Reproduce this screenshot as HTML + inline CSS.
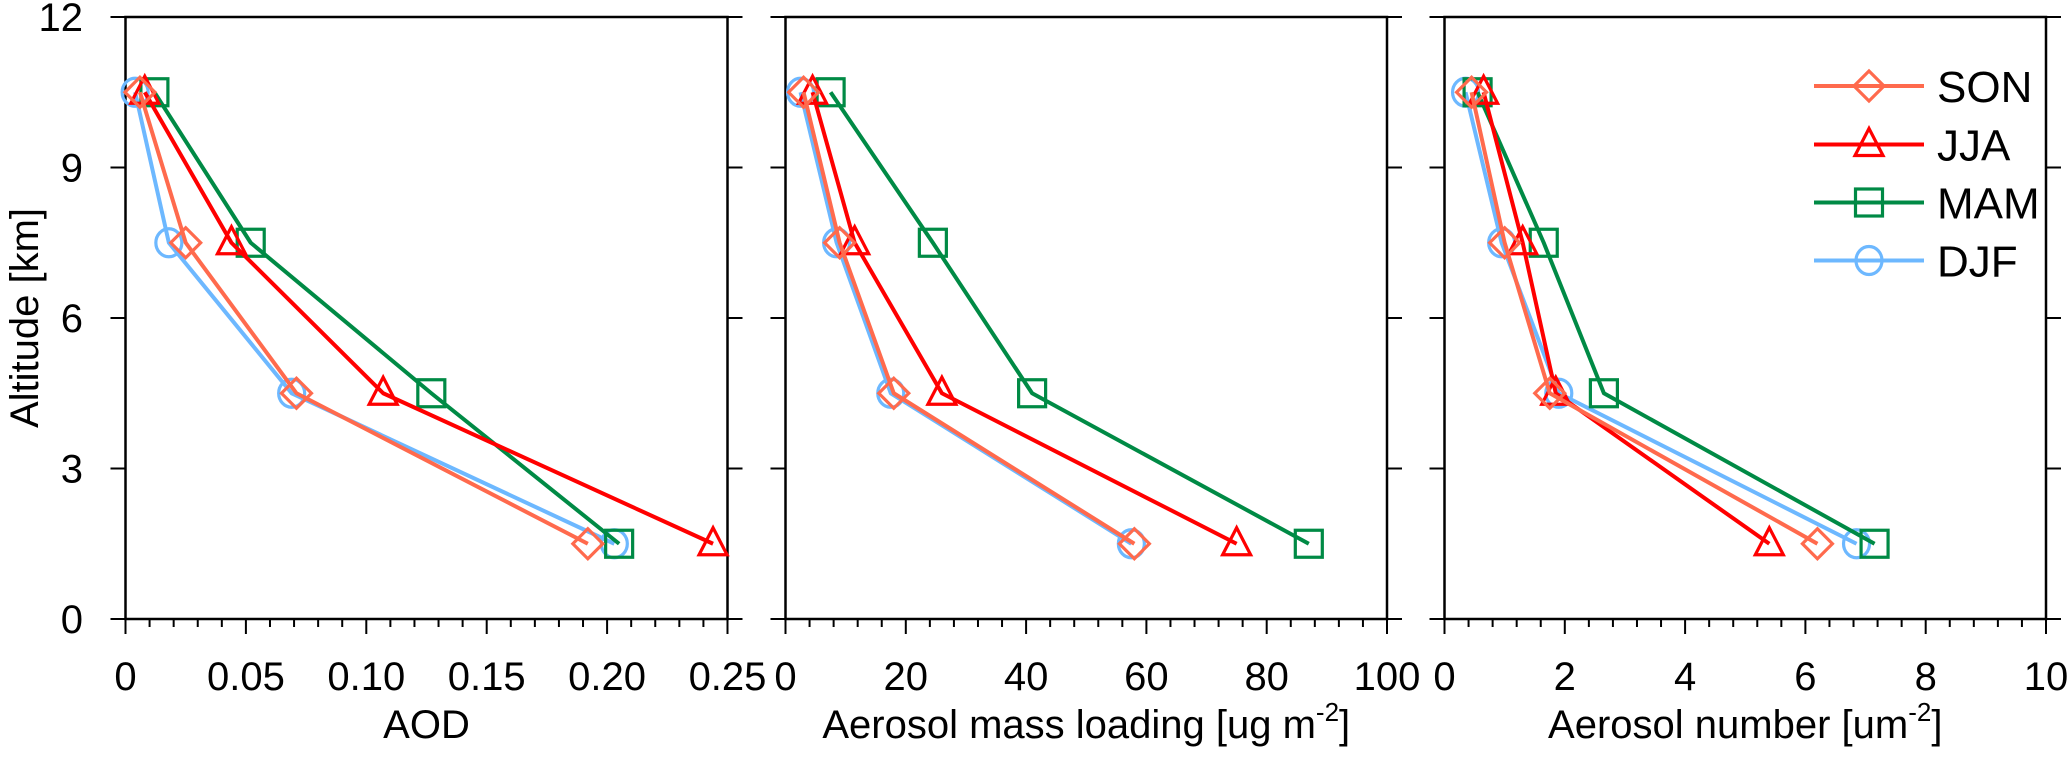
<!DOCTYPE html>
<html><head><meta charset="utf-8"><style>
html,body{margin:0;padding:0;background:#fff}
svg{display:block;font-family:"Liberation Sans",sans-serif}
</style></head><body>
<svg id="chart" width="2067" height="761" viewBox="0 0 2067 761" xmlns="http://www.w3.org/2000/svg"></svg>
<script>
const altitudes = [1.5, 4.5, 7.5, 10.5];
const seasons = ["SON", "JJA", "MAM", "DJF"];
const aodSON = [0.192, 0.071, 0.025, 0.006];
const aodJJA = [0.244, 0.107, 0.044, 0.008];
const aodMAM = [0.205, 0.127, 0.052, 0.012];
const aodDJF = [0.203, 0.069, 0.018, 0.004];
const massSON = [58, 18, 9, 3];
const massJJA = [75, 26, 11.5, 4.5];
const massMAM = [87, 41, 24.5, 7.5];
const massDJF = [57.5, 17.5, 8.5, 2.5];
const numSON = [6.2, 1.75, 1.0, 0.45];
const numJJA = [5.4, 1.85, 1.3, 0.65];
const numMAM = [7.15, 2.65, 1.65, 0.55];
const numDJF = [6.85, 1.9, 0.95, 0.35];
const yTicks = [0, 3, 6, 9, 12];
const aodTicks = ["0", "0.05", "0.10", "0.15", "0.20", "0.25"];
const massTicks = ["0", "20", "40", "60", "80", "100"];
const numTicks = ["0", "2", "4", "6", "8", "10"];

const NS = "http://www.w3.org/2000/svg";
const svg = document.getElementById("chart");
const colors = {SON:"#ff6a4d", JJA:"#ff0000", MAM:"#008a45", DJF:"#6db8ff"};
const TOP = 17, BOT = 619, YMAX = 12;
function yS(v){ return BOT - (v / YMAX) * (BOT - TOP); }
function el(tag, attrs, parent){
  const e = document.createElementNS(NS, tag);
  for (const k in attrs) e.setAttribute(k, attrs[k]);
  (parent || svg).appendChild(e);
  return e;
}
function marker(g, s, cx, cy){
  const c = colors[s]; let m;
  if (s === "SON") m = el("polygon", {points:`${cx},${cy-15} ${cx+15},${cy} ${cx},${cy+15} ${cx-15},${cy}`, fill:"none", stroke:c, "stroke-width":3.2}, g);
  else if (s === "JJA") m = el("polygon", {points:`${cx},${cy-16} ${cx+14},${cy+11} ${cx-14},${cy+11}`, fill:"none", stroke:c, "stroke-width":3.2}, g);
  else if (s === "MAM") m = el("rect", {x:cx-13.5, y:cy-13.5, width:27, height:27, fill:"none", stroke:c, "stroke-width":3.2}, g);
  else m = el("ellipse", {cx:cx, cy:cy, rx:13, ry:14, fill:"none", stroke:c, "stroke-width":3.2}, g);
  
  
}
const panels = [
  {name:"aod", x0:125.5, x1:727.5, max:0.25, ticks:aodTicks, minor:25, title:"AOD", data:{SON:aodSON,JJA:aodJJA,MAM:aodMAM,DJF:aodDJF}},
  {name:"mass", x0:785.5, x1:1387, max:100, ticks:massTicks, minor:25, title:"Aerosol mass loading [ug m", sup:"-2", data:{SON:massSON,JJA:massJJA,MAM:massMAM,DJF:massDJF}},
  {name:"number", x0:1444.5, x1:2046, max:10, ticks:numTicks, minor:25, title:"Aerosol number [um", sup:"-2", data:{SON:numSON,JJA:numJJA,MAM:numMAM,DJF:numDJF}}
];
panels.forEach((p, pi) => {
  const g = el("g", {});
  
  
  const xS = v => p.x0 + (v / p.max) * (p.x1 - p.x0);
  for (let i = 0; i <= p.minor; i++){
    const x = p.x0 + i * (p.x1 - p.x0) / p.minor;
    const major = i % 5 === 0;
    el("line", {x1:x, x2:x, y1:BOT, y2:BOT + (major ? 15 : 8), stroke:"#000", "stroke-width":2}, g);
  }
  p.ticks.forEach((t, i) => {
    const x = p.x0 + i * (p.x1 - p.x0) / (p.ticks.length - 1);
    const tx = el("text", {x:x, y:690, "font-size":40, "text-anchor":"middle"}, g);
    tx.textContent = t;
    
    
  });
  yTicks.forEach(v => {
    const y = yS(v);
    el("line", {x1:p.x0 - 15, x2:p.x0, y1:y, y2:y, stroke:"#000", "stroke-width":2}, g);
    el("line", {x1:p.x1, x2:p.x1 + 15, y1:y, y2:y, stroke:"#000", "stroke-width":2}, g);
    if (pi === 0){
      const tx = el("text", {x:83, y:y + 14, "font-size":40, "text-anchor":"end"}, g);
      tx.textContent = v;
      
      
    }
  });
  el("rect", {x:p.x0, y:TOP, width:p.x1 - p.x0, height:BOT - TOP, fill:"none", stroke:"#000", "stroke-width":2.5}, g);
  const tt = el("text", {x:(p.x0 + p.x1) / 2, y:738, "font-size":40, "text-anchor":"middle"}, g);
  
  
  tt.appendChild(document.createTextNode(p.title));
  if (p.sup){
    const s = el("tspan", {"font-size":26, dy:-17}, tt); s.textContent = p.sup;
    const c = el("tspan", {dy:17}, tt); c.textContent = "]";
  }
  ["DJF", "MAM", "JJA", "SON"].forEach(s => {
    const vals = p.data[s];
    const sg = el("g", {}, g);
    
    
    const pts = vals.map((v, i) => xS(v) + "," + yS(altitudes[i])).join(" ");
    el("polyline", {points:pts, fill:"none", stroke:colors[s], "stroke-width":4, "stroke-linejoin":"round"}, sg);
    vals.forEach((v, i) => marker(sg, s, xS(v), yS(altitudes[i])));
  });
});
const yt = el("text", {x:0, y:0, "font-size":40, "text-anchor":"middle", transform:"translate(38,318) rotate(-90)"});
yt.textContent = "Altitude [km]";


const lg = el("g", {});


const legY = [86, 144.5, 202.5, 260.5];
seasons.forEach((s, i) => {
  const eg = el("g", {}, lg);
  
  
  el("line", {x1:1814, x2:1924, y1:legY[i], y2:legY[i], stroke:colors[s], "stroke-width":4}, eg);
  marker(eg, s, 1869, legY[i]);
  const t = el("text", {x:1937, y:legY[i] + 16, "font-size":44}, eg);
  t.textContent = s;
});
</script>
</body></html>
